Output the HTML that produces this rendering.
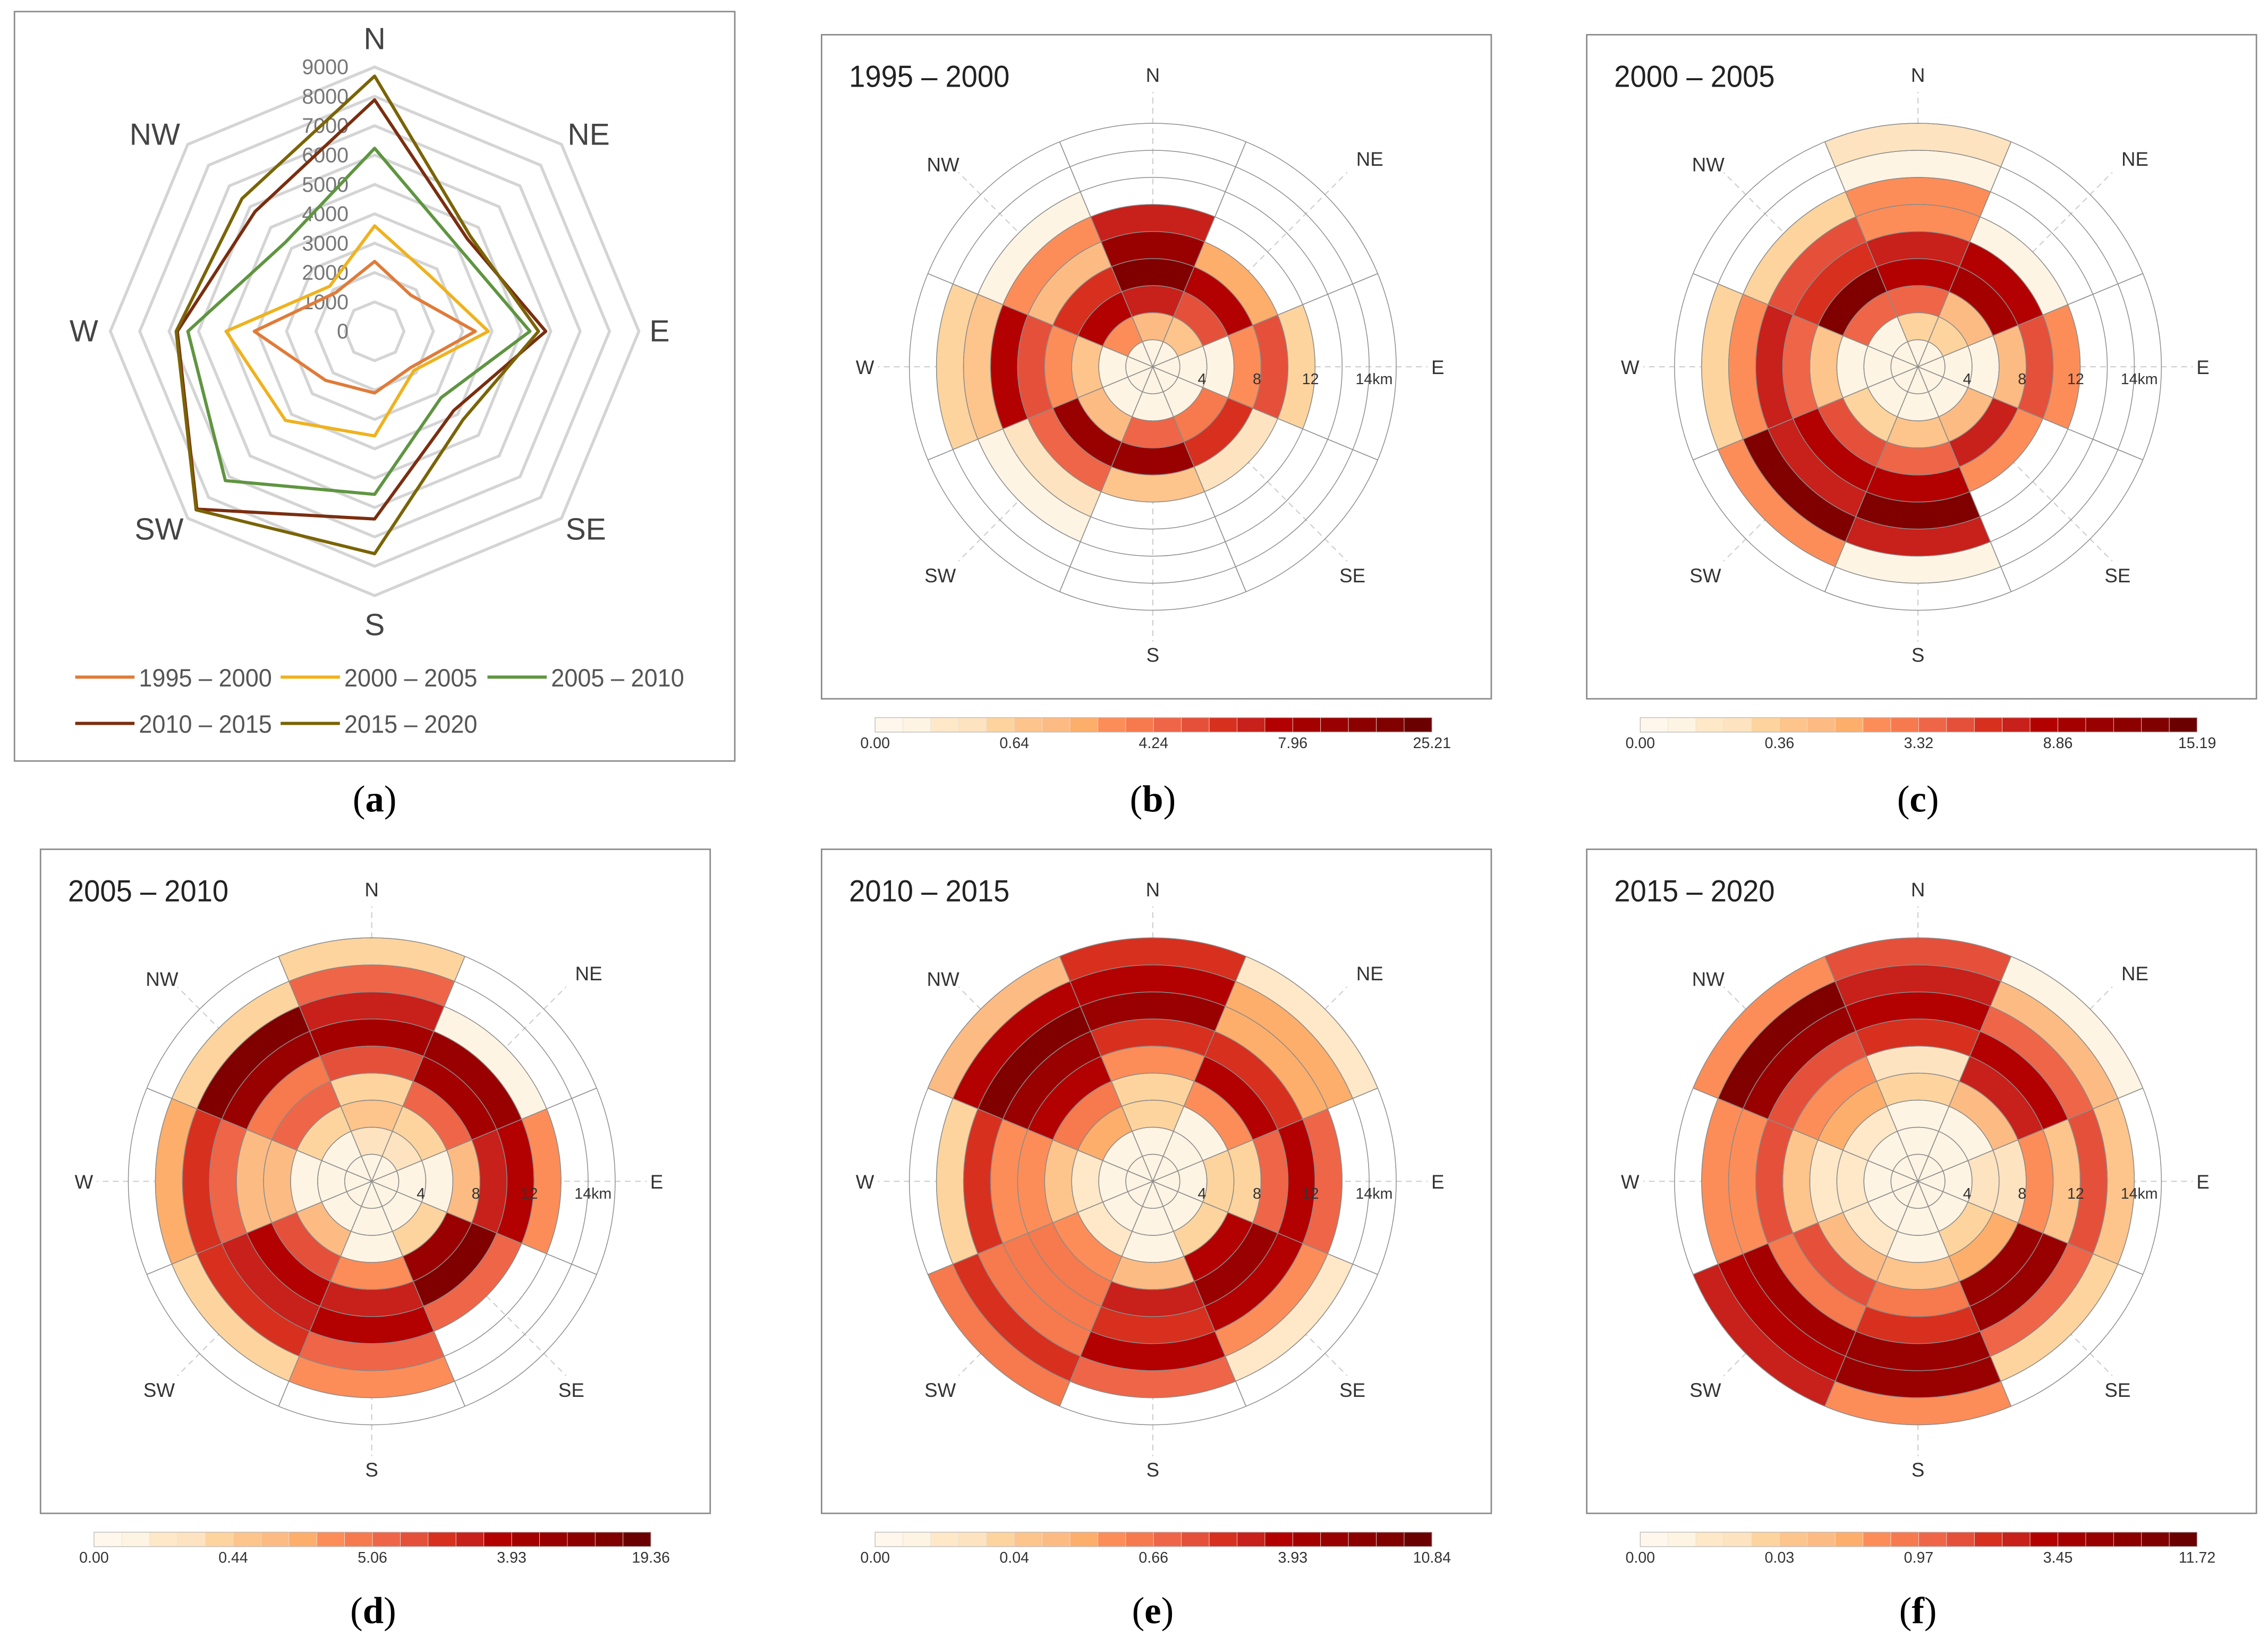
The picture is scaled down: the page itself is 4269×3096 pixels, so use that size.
<!DOCTYPE html>
<html><head><meta charset="utf-8">
<style>
html,body{margin:0;padding:0;background:#fff;}
svg{display:block;}
text{font-family:"Liberation Sans","DejaVu Sans",sans-serif;}
.serif{font-family:"Liberation Serif","DejaVu Serif",serif;}
</style></head>
<body>
<svg id="fig" xmlns="http://www.w3.org/2000/svg" width="4269" height="3096" viewBox="0 0 1568 1137" preserveAspectRatio="none">
<rect x="0" y="0" width="1568" height="1137" fill="#fff"/>
</svg>
<script>
// ---------- data ----------
const directions = ['N','NE','E','SE','S','SW','W','NW'];
const radarTicks = ['0','1000','2000','3000','4000','5000','6000','7000','8000','9000'];
const seriesNames = ['1995 – 2000','2000 – 2005','2005 – 2010','2010 – 2015','2015 – 2020'];
const s1995 = [2380, 1740, 3430, 1740, 2100, 2360, 4100, 1870];
const s2000 = [3590, 2670, 3870, 1890, 3560, 4290, 5060, 2170];
const s2005 = [6230, 4040, 5290, 3200, 5550, 7190, 6360, 4290];
const s2010 = [7880, 4460, 5830, 3810, 6390, 8560, 6720, 5760];
const s2015 = [8690, 4600, 5580, 4260, 7570, 8600, 6760, 6390];

// rose cell colour levels (0-19) per direction, inner ring first
const roseB = [[1,6,13,18,16,13],[1,5,11,14,7],[1,1,1,8,11,4],[1,1,9,12,3],[1,1,10,16,5],[1,1,6,16,10,3,1],[1,1,5,8,11,14,5,4],[1,8,14,12,6,8,1]];
const roseC = [[1,4,10,14,13,8,8,1,3],[1,4,6,15,14,1],[1,1,1,6,11,8],[1,1,6,13,8],[1,1,5,10,14,18,13,1],[1,1,4,11,14,13,18,8],[1,1,1,5,10,13,8,4],[1,1,10,18,12,11,4]];
const roseD = [[1,3,5,4,11,15,13,10,4],[1,3,4,10,15,16,1],[1,1,1,6,13,14,8],[1,1,4,16,18,10],[1,1,1,8,13,14,10,8],[1,1,6,11,14,13,12,4],[1,1,1,6,6,10,12,7],[1,1,4,10,9,16,18,4]];
const roseE = [[1,1,4,4,8,12,16,14,12],[1,1,1,8,14,12,7,7,2],[1,1,4,4,10,14,10],[1,1,4,14,16,14,8,2],[1,1,1,6,13,12,14,10],[1,1,2,8,9,9,9,12,9],[1,1,2,5,8,8,12,4],[1,1,7,9,14,16,18,14,6]];
const roseF = [[1,1,1,4,3,12,14,13,11],[1,1,1,6,13,14,10,6,1],[1,1,3,3,8,5,11,5],[1,1,4,7,16,16,10,4],[1,1,1,5,9,12,16,16,8],[1,1,2,6,11,9,15,14,13],[1,1,2,2,5,11,8,8],[1,1,2,7,8,11,16,18,8]];
const roseTitles = ['1995 – 2000','2000 – 2005','2005 – 2010','2010 – 2015','2015 – 2020'];
const cbarB = ['0.00','0.64','4.24','7.96','25.21'];
const cbarC = ['0.00','0.36','3.32','8.86','15.19'];
const cbarD = ['0.00','0.44','5.06','3.93','19.36'];
const cbarE = ['0.00','0.04','0.66','3.93','10.84'];
const cbarF = ['0.00','0.03','0.97','3.45','11.72'];
const ringLabels = ['4','8','12','14km'];

// ---------- style ----------
const palette = ['#fff7ec','#fef4e3','#fee8c8','#fee3c0','#fdd49e','#fdc48c','#fdbb84','#fdae6b','#fc8d59','#f67a4d','#ef6548','#e5503a','#d7301f','#c8201a','#b30000','#a50000','#990000','#8c0000','#800000','#6a0000'];
const lineColors = ['#e07b39','#efb21e','#5f9541','#7a2e0f','#7a6406'];
const NS = 'http://www.w3.org/2000/svg';
const svg = document.getElementById('fig');
function mk(tag, attrs, parent){
  const e = document.createElementNS(NS, tag);
  for (const k in attrs) e.setAttribute(k, attrs[k]);
  (parent||svg).appendChild(e);
  return e;
}
function txt(s, attrs, parent){ const e = mk('text', attrs, parent); e.textContent = s; return e; }

// ---------- panel letters ----------
const letters = [['a',259,552],['b',797,552],['c',1326,552],['d',258,1113],['e',797,1113],['f',1326,1113]];
letters.forEach(l=>{
  const t = mk('text',{x:l[1],y:l[2]+9,'text-anchor':'middle','font-size':26,fill:'#000','class':'serif'});
  
  
  const a = document.createElementNS(NS,'tspan'); a.textContent='('; t.appendChild(a);
  const b = document.createElementNS(NS,'tspan'); b.textContent=l[0]; b.setAttribute('font-weight','bold'); t.appendChild(b);
  const c = document.createElementNS(NS,'tspan'); c.textContent=')'; t.appendChild(c);
});

// ---------- radar (a) ----------
const ga = mk('g',{});


const fa = mk('rect',{x:10,y:8,width:498,height:518,fill:'none',stroke:'#8a8a8a','stroke-width':1},ga);


const RCX = 259, RCY = 229, PER = 20.3;
function rr(v){ return v/1000*PER; }
function rpt(i, v){ const a = i*Math.PI/4; return [RCX + rr(v)*Math.sin(a), RCY - rr(v)*Math.cos(a)]; }
for (let k=1;k<radarTicks.length;k++){
  const val = Number(radarTicks[k]);
  const pts = directions.map((d,i)=>rpt(i,val).map(n=>n.toFixed(1)).join(',')).join(' ');
  const g = mk('polygon',{points:pts,fill:'none',stroke:'#d4d4d4','stroke-width':2},ga);
  
  
}
radarTicks.forEach((t,k)=>{
  const e = txt(t,{x:241,y:RCY - rr(Number(t)) + 5,'text-anchor':'end','font-size':14.5,fill:'#777'},ga);
  
  
});
const dirLabelOff = [[0,-202],[148,-136],[197,0],[146,137],[0,203],[-149,137],[-201,0],[-152,-136]];
directions.forEach((d,i)=>{
  const e = txt(d,{x:RCX+dirLabelOff[i][0],y:RCY+dirLabelOff[i][1]+7,'text-anchor':'middle','font-size':21,fill:'#444'},ga);
  
  
});
[s1995,s2000,s2005,s2010,s2015].forEach((s,si)=>{
  const pts = s.map((v,i)=>rpt(i,v).map(n=>n.toFixed(1)).join(',')).join(' ');
  const p = mk('polygon',{points:pts,fill:'none',stroke:lineColors[si],'stroke-width':2.2,'stroke-linejoin':'round'},ga);
  
  
});
const legPos = [[52,468],[194,468],[337,468],[52,500],[194,500]];
seriesNames.forEach((n,i)=>{
  const lg = mk('g',{},ga);
  
  
  mk('line',{x1:legPos[i][0],y1:legPos[i][1],x2:legPos[i][0]+41,y2:legPos[i][1],stroke:lineColors[i],'stroke-width':2.2},lg);
  txt(n,{x:legPos[i][0]+44,y:legPos[i][1]+6.5,'font-size':17.5,fill:'#555',textLength:92,lengthAdjust:'spacingAndGlyphs'},lg);
});

// ---------- rose panels ----------
const roseData = [roseB,roseC,roseD,roseE,roseF];
const cbars = [cbarB,cbarC,cbarD,cbarE,cbarF];
const boxes = [[568,24],[1097,24],[28,587],[568,587],[1097,587]];
const UNIT = 18.7, NR = 9;
function P(cx,cy,r,deg){ const a = deg*Math.PI/180; return [cx + r*Math.sin(a), cy - r*Math.cos(a)]; }
function f(p){ return p[0].toFixed(2)+' '+p[1].toFixed(2); }
roseData.forEach((data,pi)=>{
  const bx = boxes[pi][0], by = boxes[pi][1];
  const cx = bx+229, cy = by+229.5;
  const g = mk('g',{});
  
  
  const fr = mk('rect',{x:bx,y:by,width:463,height:459,fill:'none',stroke:'#8a8a8a','stroke-width':1},g);
  
  
  const tt = txt(roseTitles[pi],{x:bx+19,y:by+36,'font-size':21,fill:'#222',textLength:111,lengthAdjust:'spacingAndGlyphs'},g);
  
  
  directions.forEach((d,i)=>{
    const p = P(cx,cy,190,i*45);
    const l = mk('line',{x1:cx,y1:cy,x2:p[0].toFixed(2),y2:p[1].toFixed(2),stroke:'#cfcfcf','stroke-width':0.8,'stroke-dasharray':'4,3'},g);
    
    
  });
  data.forEach((rings,di)=>{
    const a0 = di*45-22.5, a1 = di*45+22.5;
    rings.forEach((lvl,ri)=>{
      const r0 = ri*UNIT, r1 = (ri+1)*UNIT;
      let d;
      if (r0===0){
        d = 'M'+cx+' '+cy+' L'+f(P(cx,cy,r1,a0))+' A'+r1+' '+r1+' 0 0 1 '+f(P(cx,cy,r1,a1))+' Z';
      } else {
        d = 'M'+f(P(cx,cy,r1,a0))+' A'+r1+' '+r1+' 0 0 1 '+f(P(cx,cy,r1,a1))+' L'+f(P(cx,cy,r0,a1))+' A'+r0+' '+r0+' 0 0 0 '+f(P(cx,cy,r0,a0))+' Z';
      }
      const c = mk('path',{d:d,fill:palette[lvl],stroke:'#555','stroke-width':0.45},g);
      
      
    });
  });
  for (let k=1;k<=NR;k++){
    const c = mk('circle',{cx:cx,cy:cy,r:k*UNIT,fill:'none',stroke:'#8d8d8d','stroke-width':0.55},g);
    
    
  }
  for (let i=0;i<8;i++){
    const p = P(cx,cy,NR*UNIT,i*45+22.5);
    const l = mk('line',{x1:cx,y1:cy,x2:p[0].toFixed(2),y2:p[1].toFixed(2),stroke:'#8d8d8d','stroke-width':0.6},g);
    
    
  }
  const off = [[0,-202],[150,-144],[197,0],[138,144],[0,199],[-147,144],[-199,0],[-145,-140]];
  directions.forEach((d,i)=>{
    const e = txt(d,{x:cx+off[i][0],y:cy+off[i][1]+5,'text-anchor':'middle','font-size':13.5,fill:'#333'},g);
    
    
  });
  const rlx = [34,72,109,153];
  ringLabels.forEach((s,i)=>{
    const e = txt(s,{x:cx+rlx[i],y:cy+12,'text-anchor':'middle','font-size':10.5,fill:'#333'},g);
    
    
  });
  const cbx = bx+37, cby = by+472, cbw = 385, cbh = 10;
  const cg = mk('g',{},g);
  
  
  palette.forEach((col,k)=>{
    const r = mk('rect',{x:(cbx+k*cbw/20).toFixed(2),y:cby,width:(cbw/20).toFixed(2),height:cbh,fill:col,stroke:'#e6e0d8','stroke-width':0.3},cg);
    
    
  });
  mk('rect',{x:cbx,y:cby,width:cbw,height:cbh,fill:'none',stroke:'#bbb','stroke-width':0.5},cg);
  cbars[pi].forEach((s,k)=>{
    const e = txt(s,{x:cbx+k*cbw/4,y:cby+cbh+11,'text-anchor':'middle','font-size':10.5,fill:'#333'},cg);
    
    
  });
});
</script>
</body></html>
